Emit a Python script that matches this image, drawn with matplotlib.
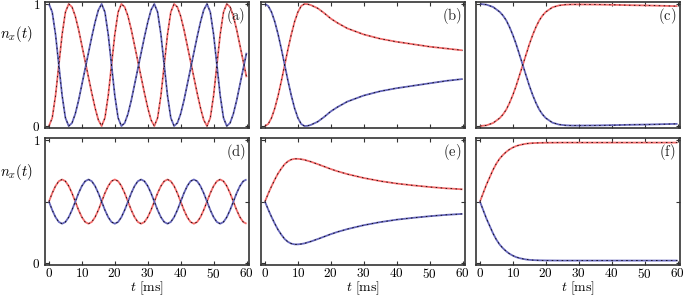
import numpy as np
import matplotlib
matplotlib.use("Agg")
import matplotlib.pyplot as plt

plt.rcParams['mathtext.fontset'] = 'cm'
plt.rcParams['font.family'] = 'serif'
plt.rcParams['font.serif'] = ['DejaVu Serif']

# ---- data (t in ms, n_x populations) ----
t_a = list(range(0, 61))
red_a = [0, .067, .25, .5, .75, .933, 1,
         .975, .90, .79, .66, .53, .40, .27, .15, .05, 0,
         .067, .25, .5, .75, .933, 1,
         .975, .90, .79, .66, .53, .40, .27, .15, .05, 0,
         .067, .25, .5, .75, .933, 1,
         .975, .90, .79, .66, .53, .40, .27, .15, .05, 0,
         .067, .25, .5, .75, .933, 1,
         .975, .90, .79, .66, .53, .40]
blue_a = [1, .933, .75, .5, .25, .067, 0,
          .025, .10, .21, .34, .47, .60, .73, .85, .95, 1,
          .933, .75, .5, .25, .067, 0,
          .025, .10, .21, .34, .47, .60, .73, .85, .95, 1,
          .933, .75, .5, .25, .067, 0,
          .025, .10, .21, .34, .47, .60, .73, .85, .95, 1,
          .933, .75, .5, .25, .067, 0,
          .025, .10, .21, .34, .47, .60]

t_b = [0, 1, 2, 3, 4, 5, 6, 7, 8, 9, 10, 11, 12, 13, 14, 16, 18, 20, 22, 25,
       30, 35, 40, 45, 50, 55, 60]
red_b = [0, .017, .067, .146, .25, .37, .5, .63, .75, .854, .933, .983, 1.0,
         .998, .99, .965, .925, .88, .845, .80, .75, .715, .69, .67, .65,
         .635, .62]
blue_b = [1, .983, .933, .854, .75, .63, .5, .37, .25, .146, .067, .017, 0,
          .002, .01, .035, .075, .12, .155, .20, .25, .285, .31, .33, .35,
          .37, .385]

t_c = [0, 2, 4, 6, 7, 8, 9, 10, 11, 12, 13, 14, 15, 16, 17, 18, 19, 20, 22,
       24, 26, 28, 30, 35, 40, 45, 50, 55, 60]
red_c = [0, .006, .025, .065, .095, .135, .19, .255, .33, .415, .5, .585,
         .67, .745, .81, .865, .905, .935, .972, .988, .994, .996, .996,
         .995, .993, .99, .988, .985, .982]
blue_c = [1, .994, .975, .935, .905, .865, .81, .745, .67, .585, .5, .415,
          .33, .255, .19, .135, .095, .065, .028, .012, .006, .004, .004,
          .005, .007, .01, .012, .015, .018]

t_d = list(range(0, 61))
red_d = [.5, .569, .627, .666, .68, .666, .627, .569,
         .5, .431, .373, .334, .32, .334, .373, .431,
         .5, .569, .627, .666, .68, .666, .627, .569,
         .5, .431, .373, .334, .32, .334, .373, .431,
         .5, .569, .627, .666, .68, .666, .627, .569,
         .5, .431, .373, .334, .32, .334, .373, .431,
         .5, .569, .627, .666, .68, .666, .627, .569,
         .5, .431, .373, .334, .32]
blue_d = [.5, .431, .373, .334, .32, .334, .373, .431,
          .5, .569, .627, .666, .68, .666, .627, .569,
          .5, .431, .373, .334, .32, .334, .373, .431,
          .5, .569, .627, .666, .68, .666, .627, .569,
          .5, .431, .373, .334, .32, .334, .373, .431,
          .5, .569, .627, .666, .68, .666, .627, .569,
          .5, .431, .373, .334, .32, .334, .373, .431,
          .5, .569, .627, .666, .68]

t_e = [0, 1, 2, 3, 4, 5, 6, 7, 8, 9, 10, 11, 12, 14, 16, 18, 20, 22, 25, 30,
       35, 40, 45, 50, 55, 60]
red_e = [.5, .565, .625, .68, .73, .77, .805, .828, .842, .848, .848, .845,
         .84, .824, .805, .785, .765, .747, .724, .692, .667, .647, .632,
         .619, .608, .6]
blue_e = [.5, .435, .375, .32, .27, .23, .195, .172, .158, .152, .152, .155,
          .16, .176, .195, .215, .235, .253, .276, .308, .333, .353, .368,
          .381, .392, .4]

t_f = [0, 1, 2, 3, 4, 5, 6, 7, 8, 9, 10, 11, 12, 13, 14, 15, 16, 18, 20, 25,
       30, 35, 40, 45, 50, 55, 60]
red_f = [.5, .57, .64, .70, .76, .81, .85, .88, .905, .925, .94, .952, .96,
         .966, .971, .974, .976, .978, .979, .98, .98, .98, .98, .98, .98,
         .98, .98]
blue_f = [.5, .43, .36, .30, .24, .19, .15, .12, .095, .075, .06, .048, .04,
          .034, .029, .026, .024, .022, .021, .02, .02, .02, .02, .02, .02,
          .02, .02]

panels = [(t_a, red_a, blue_a, '(a)'), (t_b, red_b, blue_b, '(b)'),
          (t_c, red_c, blue_c, '(c)'), (t_d, red_d, blue_d, '(d)'),
          (t_e, red_e, blue_e, '(e)'), (t_f, red_f, blue_f, '(f)')]

W, H = 685, 299
fig = plt.figure(figsize=(W / 100, H / 100), dpi=100)

lefts = [44.5, 260.5, 475.5]
width = 204.5
rows = [(1.5, 128), (137.7, 265)]   # top, bottom in pixels

red = '#f26a6a'
blue = '#6666bb'
frame = '#333333'

for k, (t, r, b, lab) in enumerate(panels):
    row, col = divmod(k, 3)
    top, bot = rows[row]
    ax = fig.add_axes([lefts[col] / W, (H - bot) / H, width / W, (bot - top) / H])
    ax.plot(t, r, color=red, lw=1.3, solid_capstyle='butt')
    ax.plot(t, b, color=blue, lw=1.3, solid_capstyle='butt')
    ax.plot(t, r, color='black', lw=0.55, ls=(0, (2, 4.5)))
    ax.plot(t, b, color='black', lw=0.55, ls=(0, (2, 4.5)))
    ax.set_xlim(-1.35, 60.75)
    ax.set_ylim(-0.016, 1.02)
    ax.set_xticks(range(0, 61, 10))
    if row == 0:
        ax.set_yticks([0, 1])
    else:
        ax.set_yticks([0, 0.5, 1])
    ax.tick_params(direction='in', top=True, right=True, length=2.8, width=0.8,
                   color=frame, labelsize=9.5, pad=3)
    ax.tick_params(axis='x', pad=1.5)
    for s in ax.spines.values():
        s.set_linewidth(1.2)
        s.set_color(frame)
    if row == 1:
        ax.set_xticklabels(['$%d$' % v for v in range(0, 61, 10)])
        cx = (lefts[col] + width / 2) / W
        fig.text(cx, 1 - 288.5 / H, r'$t\ [\mathrm{ms}]$', ha='center',
                 va='center', fontsize=10)
    else:
        ax.set_xticklabels([])
    if col == 0:
        ax.set_yticklabels(['$0$', '', '$1$'] if row == 1 else ['$0$', '$1$'])
    else:
        ax.set_yticklabels([])
    ax.text(0.935, 0.885, r'$\mathrm{%s}$' % lab, transform=ax.transAxes,
            ha='center', va='center', fontsize=10.5, color='#222222')

fig.text(33 / W, 1 - 34 / H, r'$n_x(t)$', ha='right', va='center', fontsize=10.5)
fig.text(33 / W, 1 - 172 / H, r'$n_x(t)$', ha='right', va='center', fontsize=10.5)

fig.savefig('out.png', dpi=100)
